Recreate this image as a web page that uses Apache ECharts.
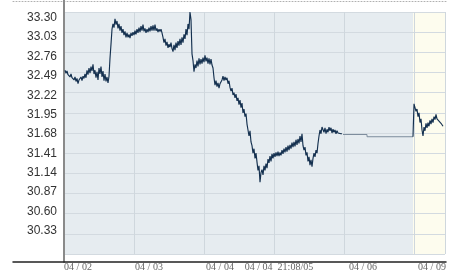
<!DOCTYPE html>
<html>
<head>
<meta charset="utf-8">
<script src="https://cdn.jsdelivr.net/npm/echarts@6/dist/echarts.min.js"></script>
<style>html,body{margin:0;padding:0;background:#fff}#c{width:454px;height:272px}</style>
</head>
<body>
<div id="c"></div>
<script>
// x unit: one step = 1/70 of a trading day slot
const xLabels = ['04 / 02', '04 / 03', '04 / 04', '04 / 04  21:08/05', '04 / 06', '04 / 09'];
const xLabelAt = [14, 85, 156, 215, 299, 368];
const xMax = 381;
const dayStep = 70;
const yMin = 30.06, yMax = 33.30, yStep = 0.27;
const yTickLabels = ['30.33', '30.60', '30.87', '31.14', '31.41', '31.68', '31.95', '32.22', '32.49', '32.76', '33.03', '33.30'];
const labelScaleMin = 30.006, labelScaleMax = 33.381;
const lateSessionStart = 349;

const mainStart = 1;
const mainPrices = [
 32.52,32.48,32.51,32.46,32.48,32.43,32.47,32.42,32.44,32.39,
 32.43,32.37,32.41,32.34,32.39,32.37,32.43,32.38,32.44,32.41,
 32.47,32.42,32.52,32.46,32.55,32.48,32.57,32.51,32.60,32.47,
 32.52,32.42,32.50,32.39,32.55,32.47,32.57,32.43,32.51,32.38,
 32.47,32.37,32.43,32.35,32.44,32.68,32.87,33.07,33.14,33.09,
 33.21,33.13,33.18,33.08,33.14,33.05,33.11,33.02,33.07,32.99,
 33.04,32.96,33.02,32.96,33.00,32.95,33.02,32.98,33.03,32.99,
 33.05,33.00,33.07,33.02,33.09,33.03,33.11,33.05,33.13,33.04,
 33.08,33.02,33.07,33.03,33.09,33.04,33.11,33.05,33.12,33.05,
 33.13,33.05,33.08,33.03,33.07,33.04,33.07,33.02,32.96,32.89,
 32.94,32.85,32.90,32.82,32.87,32.83,32.89,32.81,32.77,32.86,
 32.79,32.89,32.82,32.91,32.85,32.94,32.86,32.96,32.89,33.00,
 32.94,33.07,32.99,33.14,33.07,33.30,33.20,32.74,32.65,32.50,
 32.60,32.55,32.65,32.57,32.68,32.60,32.67,32.61,32.69,32.63,
 32.72,32.64,32.69,32.61,32.68,32.60,32.67,32.59,32.55,32.42,
 32.32,32.38,32.30,32.35,32.28,32.34,32.32,32.39,32.44,32.38,
 32.43,32.39,32.42,32.34,32.38,32.29,32.24,32.28,32.19,32.22,
 32.15,32.20,32.11,32.15,32.06,32.12,32.02,32.08,31.95,32.00,
 31.90,31.94,31.80,31.72,31.64,31.71,31.56,31.51,31.41,31.47,
 31.34,31.41,31.29,31.18,31.24,31.02,31.15,31.19,31.12,31.24,
 31.18,31.27,31.21,31.33,31.28,31.37,31.30,31.40,31.34,31.41,
 31.36,31.42,31.37,31.43,31.37,31.42,31.38,31.45,31.40,31.47,
 31.42,31.49,31.43,31.51,31.45,31.52,31.47,31.55,31.49,31.56,
 31.50,31.59,31.52,31.60,31.54,31.64,31.56,31.67,31.51,31.45,
 31.49,31.38,31.42,31.30,31.36,31.25,31.32,31.23,31.34,31.41,
 31.36,31.45,31.41,31.54,31.64,31.72,31.67,31.76,31.78,31.69,
 31.75,31.67,31.73,31.69,31.76,31.71,31.75,31.68,31.73,31.69,
 31.72,31.67,31.71,31.68,31.69,31.68,31.67,31.67
];

const flatX = [279, 303, 303, 349];
const flatPrices = [31.66, 31.66, 31.63, 31.63];

const lastStart = 349;
const lastPrices = [31.63,32.07,32.06,31.97,32.00,31.90,31.95,31.82,31.87,31.72,31.64,31.76,31.71,31.81,31.75,31.82,31.77,31.85,31.80,31.87,31.82,31.90,31.86,31.93,31.87,31.89,31.84,31.86,31.81,31.82,31.77];

const mainData = mainPrices.map((v, i) => [mainStart + i, v]);
const flatData = flatX.map((x, i) => [x, flatPrices[i]]);
const lastData = lastPrices.map((v, i) => [lastStart + i, v]);
const yTickValues = yTickLabels.map(Number);

const chart = echarts.init(document.getElementById('c'), null, {renderer: 'canvas'});
const lineColor = '#14304f';
chart.setOption({
  animation: false,
  grid: [
    {left: 64, right: 9, top: 12, bottom: 10, show: true, backgroundColor: '#e6ecf0', borderWidth: 0},
    {left: 13, right: 8, top: 1, bottom: 10},
    {left: 64, right: 9, top: 0, bottom: 10}
  ],
  xAxis: [
    {
      gridIndex: 0, type: 'value', min: 0, max: xMax, interval: dayStep, z: 3,
      axisLine: {show: false}, axisTick: {show: false},
      splitLine: {show: true, lineStyle: {color: '#cfd7dd', width: 1}},
      axisLabel: {
        customValues: xLabelAt,
        margin: 8,
        fontFamily: 'Liberation Serif', fontSize: 10, color: '#666',
        formatter: function (v) {
          const i = xLabelAt.indexOf(v);
          return i >= 0 ? xLabels[i] : '';
        }
      }
    },
    {
      gridIndex: 1, type: 'value', min: 0, max: 1, position: 'bottom', z: 4,
      axisLine: {show: true, lineStyle: {color: '#222', width: 1.5}},
      axisTick: {show: false}, axisLabel: {show: false}, splitLine: {show: false}
    },
    {
      gridIndex: 1, type: 'value', min: 0, max: 1, position: 'top',
      axisLine: {show: true, lineStyle: {color: '#b0b0b0', width: 1, type: [1, 2]}},
      axisTick: {show: false}, axisLabel: {show: false}, splitLine: {show: false}
    },
    {gridIndex: 2, type: 'value', min: 0, max: 1, show: false}
  ],
  yAxis: [
    {
      gridIndex: 0, type: 'value', min: yMin, max: yMax, interval: yStep, z: 3,
      axisLine: {show: false}, axisTick: {show: false},
      splitLine: {show: true, lineStyle: {color: '#d3dae0', width: 1}},
      axisLabel: {show: false}
    },
    {gridIndex: 1, type: 'value', min: 0, max: 1, show: false},
    {
      gridIndex: 2, type: 'value', min: 0, max: 1, z: 4,
      axisLine: {show: true, lineStyle: {color: '#8a8a8a', width: 2}},
      axisTick: {show: false}, axisLabel: {show: false}, splitLine: {show: false}
    },
    {
      gridIndex: 0, type: 'value', min: labelScaleMin, max: labelScaleMax, position: 'left',
      axisLine: {show: false}, axisTick: {show: false}, splitLine: {show: false},
      axisLabel: {
        customValues: yTickValues, margin: 7,
        fontFamily: 'Liberation Sans', fontSize: 12, color: '#333',
        formatter: v => v.toFixed(2)
      }
    }
  ],
  series: [
    {
      type: 'line', data: [], xAxisIndex: 0, yAxisIndex: 0,
      markArea: {
        silent: true,
        data: [
          [{xAxis: lateSessionStart, itemStyle: {color: '#fdfcee'}}, {xAxis: xMax}]
        ]
      }
    },
    {
      type: 'line', data: mainData, showSymbol: false, symbol: 'none', z: 10,
      lineStyle: {color: lineColor, width: 1.15}
    },
    {
      type: 'line', data: flatData, showSymbol: false, symbol: 'none', z: 10,
      lineStyle: {color: '#7d8c9c', width: 1}
    },
    {
      type: 'line', data: lastData, showSymbol: false, symbol: 'none', z: 10,
      lineStyle: {color: lineColor, width: 1.15}
    }
  ]
});
</script>
</body>
</html>
